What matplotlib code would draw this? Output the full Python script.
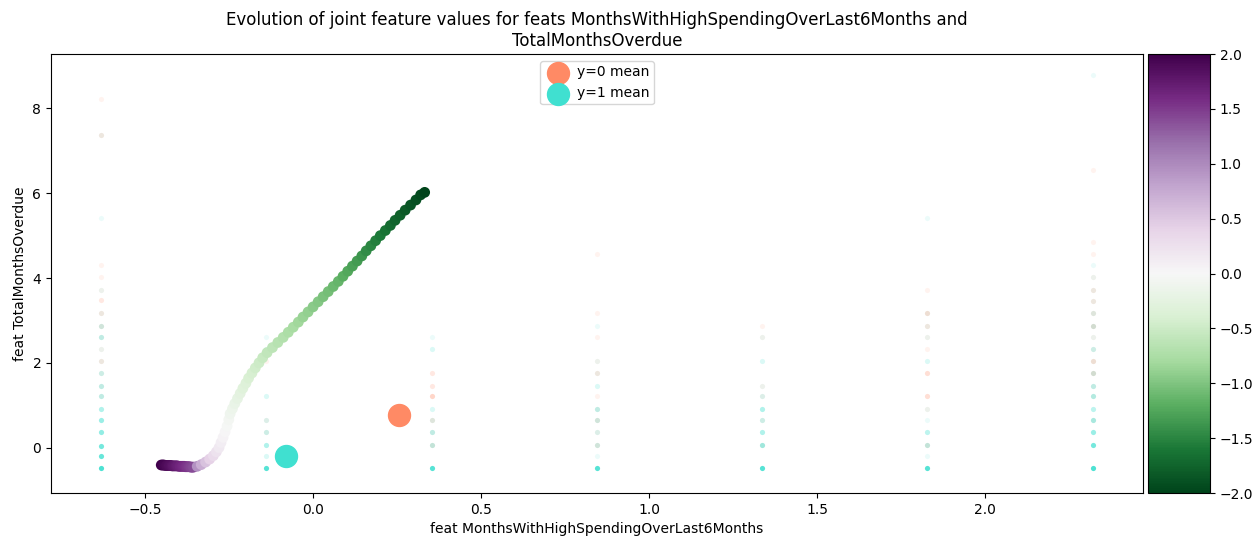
import numpy as np
import matplotlib
matplotlib.use("Agg")
import matplotlib.pyplot as plt
from matplotlib.colors import to_rgb

# valores das colunas (x padronizado) e níveis de y com contagens por classe
col_x = [-0.63, -0.14, 0.354, 0.845, 1.336, 1.827, 2.32]

col1_y = [8.22, 7.37, 5.42, 4.30, 4.02, 3.72, 3.47, 3.17, 2.87, 2.62, 2.33, 2.05, 1.76, 1.46, 1.21, 0.91, 0.66, 0.36, 0.05, -0.20, -0.48]
col1_n0 = [1, 2, 0, 1, 1, 1, 2, 2, 2, 1, 1, 2, 1, 1, 1, 0, 0, 0, 0, 0, 0]
col1_n1 = [0, 1, 1, 0, 0, 1, 0, 1, 3, 4, 1, 1, 3, 4, 4, 5, 7, 8, 12, 15, 25]

col2_y = [2.60, 2.32, 2.05, 1.21, 0.66, 0.36, 0.07, -0.20, -0.49]
col2_n0 = [0, 0, 1, 0, 1, 1, 0, 0, 0]
col2_n1 = [1, 2, 0, 2, 2, 3, 5, 2, 20]

col3_y = [2.60, 2.32, 1.76, 1.46, 1.21, 0.91, 0.66, 0.36, 0.07, -0.49]
col3_n0 = [0, 0, 2, 2, 4, 0, 2, 1, 2, 0]
col3_n1 = [1, 2, 0, 0, 0, 2, 2, 4, 4, 20]

col4_y = [4.57, 3.17, 2.87, 2.60, 2.05, 1.76, 1.46, 1.21, 0.91, 0.66, 0.36, 0.07, -0.20, -0.49]
col4_n0 = [1, 1, 0, 1, 1, 2, 0, 1, 1, 2, 1, 2, 0, 0]
col4_n1 = [0, 0, 1, 0, 1, 1, 2, 0, 4, 3, 2, 3, 1, 20]

col5_y = [2.87, 2.60, 2.05, 1.46, 1.21, 0.91, 0.66, 0.36, 0.07, -0.48]
col5_n0 = [1, 1, 0, 1, 1, 0, 1, 0, 1, 0]
col5_n1 = [0, 1, 2, 1, 2, 5, 3, 5, 7, 20]

col6_y = [5.42, 3.72, 3.17, 2.87, 2.60, 2.32, 2.05, 1.76, 1.21, 0.91, 0.66, 0.36, 0.07, -0.20, -0.48]
col6_n0 = [0, 1, 3, 2, 1, 1, 0, 3, 3, 1, 0, 0, 2, 0, 0]
col6_n1 = [1, 0, 1, 1, 1, 0, 2, 0, 0, 1, 1, 4, 4, 1, 20]

col7_y = [8.79, 6.54, 4.86, 4.57, 4.31, 4.02, 3.72, 3.46, 3.17, 2.87, 2.60, 2.32, 2.05, 1.76, 1.46, 1.21, 0.91, 0.66, 0.36, 0.07, -0.48]
col7_n0 = [0, 1, 1, 1, 0, 1, 2, 2, 2, 3, 1, 1, 3, 3, 1, 1, 0, 1, 0, 0, 0]
col7_n1 = [1, 0, 0, 0, 1, 1, 1, 1, 2, 3, 1, 3, 1, 3, 4, 5, 4, 6, 7, 12, 25]

col_y = [col1_y, col2_y, col3_y, col4_y, col5_y, col6_y, col7_y]
col_n0 = [col1_n0, col2_n0, col3_n0, col4_n0, col5_n0, col6_n0, col7_n0]
col_n1 = [col1_n1, col2_n1, col3_n1, col4_n1, col5_n1, col6_n1, col7_n1]

# trajetória dos valores conjuntos
traj_x = [-0.452, -0.448, -0.444, -0.440, -0.436, -0.432, -0.428, -0.424, -0.420, -0.416,
          -0.412, -0.408, -0.404, -0.400, -0.396, -0.392, -0.388, -0.384, -0.380, -0.376,
          -0.372, -0.368, -0.364, -0.360, -0.356,
          -0.345, -0.333, -0.320, -0.308, -0.297, -0.288, -0.280, -0.274, -0.268, -0.262,
          -0.256, -0.251,
          -0.247, -0.240, -0.233, -0.225, -0.217, -0.209, -0.200, -0.192, -0.182, -0.172,
          -0.161, -0.150, -0.137, -0.121, -0.105, -0.089, -0.074, -0.059, -0.044, -0.030,
          -0.015, 0.000, 0.015, 0.030, 0.045, 0.060, 0.075, 0.089, 0.103, 0.117,
          0.131, 0.145, 0.158, 0.172, 0.186, 0.200, 0.215, 0.230, 0.244, 0.259,
          0.274, 0.290, 0.306, 0.320, 0.332]
traj_y = [-0.41, -0.41, -0.41, -0.42, -0.42, -0.42, -0.42, -0.42, -0.43, -0.43,
          -0.43, -0.43, -0.43, -0.44, -0.44, -0.44, -0.44, -0.44, -0.45, -0.45,
          -0.45, -0.45, -0.46, -0.46, -0.46,
          -0.44, -0.40, -0.34, -0.27, -0.19, -0.10, 0.00, 0.12, 0.24, 0.37,
          0.51, 0.66,
          0.80, 0.92, 1.04, 1.16, 1.28, 1.40, 1.52, 1.64, 1.76, 1.88,
          2.00, 2.12, 2.24, 2.36, 2.48, 2.60, 2.72, 2.84, 2.96, 3.08,
          3.20, 3.32, 3.44, 3.56, 3.68, 3.80, 3.92, 4.04, 4.16, 4.28,
          4.40, 4.52, 4.64, 4.76, 4.88, 5.00, 5.12, 5.24, 5.36, 5.48,
          5.60, 5.72, 5.84, 5.96, 6.02]
traj_c = [2.00, 1.98, 1.95, 1.93, 1.90, 1.88, 1.85, 1.83, 1.80, 1.78,
          1.75, 1.73, 1.70, 1.68, 1.65, 1.63, 1.60, 1.58, 1.55, 1.53,
          1.50, 1.48, 1.45, 1.43, 1.40,
          0.95, 0.72, 0.55, 0.42, 0.32, 0.24, 0.17, 0.11, 0.06, 0.02,
          -0.02, -0.06,
          -0.10, -0.14, -0.18, -0.22, -0.26, -0.30, -0.34, -0.38, -0.42, -0.46,
          -0.50, -0.54, -0.58, -0.62, -0.66, -0.70, -0.74, -0.78, -0.82, -0.86,
          -0.90, -0.94, -0.98, -1.02, -1.06, -1.10, -1.14, -1.19, -1.24, -1.29,
          -1.34, -1.39, -1.44, -1.49, -1.54, -1.59, -1.64, -1.69, -1.74, -1.78,
          -1.82, -1.86, -1.90, -1.95, -2.00]

# médias por classe
mean0 = (0.255, 0.76)
mean1 = (-0.08, -0.19)

cor0 = '#ff8a65'
cor1 = '#40e0d0'

fig = plt.figure(figsize=(12.54, 5.41), dpi=100)
ax = fig.add_axes([0.0407, 0.0887, 0.8708, 0.8113])
cax = fig.add_axes([0.9155, 0.0887, 0.0494, 0.8113])

# pontos do dataset: cor misturada pela proporção das classes, opacidade pela contagem
a = 0.1
c0 = np.array(to_rgb(cor0))
c1 = np.array(to_rgb(cor1))
for xv, ys, n0s, n1s in zip(col_x, col_y, col_n0, col_n1):
    for yv, n0, n1 in zip(ys, n0s, n1s):
        n = n0 + n1
        f = n0 / n
        rgb = f * c0 + (1 - f) * c1
        alpha = 1 - (1 - a) ** n
        ax.scatter([xv], [yv], s=14, color=[(*rgb, alpha)], linewidths=0, zorder=1)

sc = ax.scatter(traj_x, traj_y, c=traj_c, cmap='PRGn_r', vmin=-2, vmax=2,
                s=60, linewidths=0, zorder=2)

ax.scatter([mean0[0]], [mean0[1]], s=250, color=cor0, label='y=0 mean', zorder=3)
ax.scatter([mean1[0]], [mean1[1]], s=250, color=cor1, label='y=1 mean', zorder=3)

ax.set_xlim(-0.78, 2.47)
ax.set_ylim(-1.07, 9.28)
ax.set_xlabel('feat MonthsWithHighSpendingOverLast6Months')
ax.set_ylabel('feat TotalMonthsOverdue')
ax.set_title('Evolution of joint feature values for feats MonthsWithHighSpendingOverLast6Months and\nTotalMonthsOverdue',
             fontsize=12)
ax.legend(loc='upper center', borderpad=0.3, handletextpad=0.4)

cb = fig.colorbar(sc, cax=cax)
cb.set_ticks([-2.0, -1.5, -1.0, -0.5, 0.0, 0.5, 1.0, 1.5, 2.0])

fig.savefig('out.png', dpi=100)
